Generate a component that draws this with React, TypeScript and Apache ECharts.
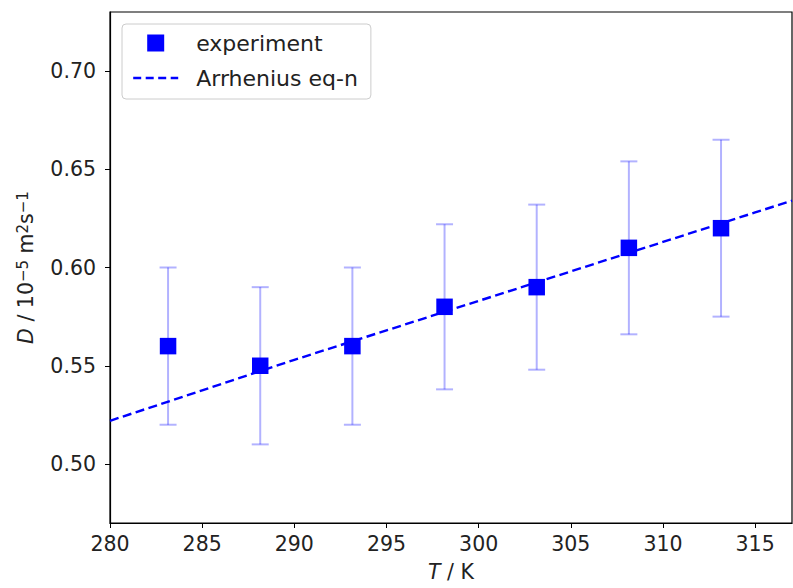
import React, { useEffect, useRef } from "react";
import * as echarts from "echarts";

// Measured diffusion coefficients (D in 10^-5 m^2/s) at each temperature (K)
const temps = [283.15, 288.15, 293.15, 298.15, 303.15, 308.15, 313.15];
const diffusion = [0.56, 0.55, 0.56, 0.58, 0.59, 0.61, 0.62];
const errLow = [0.52, 0.51, 0.52, 0.538, 0.548, 0.566, 0.575];
const errHigh = [0.6, 0.59, 0.6, 0.622, 0.632, 0.654, 0.665];

// Arrhenius fit curve
const fitT = [280, 285, 290, 295, 300, 305, 310, 315, 317];
const fitD = [0.522, 0.5375, 0.553, 0.568, 0.583, 0.598, 0.613, 0.628, 0.634];

// Axis ticks
const xTicks = [280, 285, 290, 295, 300, 305, 310, 315];
const yTicks = [0.5, 0.55, 0.6, 0.65, 0.7];

const FONT = "DejaVu Sans";
const TEXT = "#222";
const BLUE = "#0000ff";

export default function App() {
  const ref = useRef<HTMLDivElement>(null);

  useEffect(() => {
    if (!ref.current) return;
    const chart = echarts.init(ref.current, null, { renderer: "svg" });

    const errData = temps.map((t, i) => [t, errLow[i], errHigh[i]]);
    const pts = temps.map((t, i) => [t, diffusion[i]]);
    const fit = fitT.map((t, i) => [t, fitD[i]]);

    const sup = {
      fontSize: 15,
      verticalAlign: "top",
      fontFamily: FONT,
      color: TEXT,
      padding: [0, 0, 4, 0],
    };
    const ital = { fontStyle: "italic", fontSize: 20.5, fontFamily: FONT, color: TEXT };

    chart.setOption({
      animation: false,
      backgroundColor: "#fff",
      textStyle: { fontFamily: FONT },
      grid: {
        left: 110,
        top: 12,
        right: 1,
        bottom: 65,
        show: true,
        borderColor: "#000",
        borderWidth: 1.2,
        backgroundColor: "transparent",
      },
      legend: {
        left: 122,
        top: 24,
        orient: "vertical",
        itemWidth: 45,
        itemHeight: 17,
        itemGap: 13,
        padding: [8, 13, 10, 10],
        borderColor: "#cccccc",
        borderWidth: 1,
        borderRadius: 4,
        backgroundColor: "rgba(255,255,255,0.8)",
        symbolKeepAspect: true,
        textStyle: {
          fontSize: 22,
          lineHeight: 22,
          color: TEXT,
          fontFamily: FONT,
          padding: [0, 0, 0, 13],
        },
        data: [
          { name: "experiment", icon: "path://M0,0H1V1H0Z" },
          {
            name: "Arrhenius eq-n",
            itemStyle: { color: "rgba(0,0,0,0)", borderWidth: 0, opacity: 0 },
            lineStyle: { color: BLUE, width: 2.4, type: [8, 4.5], opacity: 1 },
          },
        ],
      },
      xAxis: {
        type: "value",
        min: 280,
        max: 317,
        name: "{i|T} / K",
        nameLocation: "middle",
        nameGap: 38,
        nameTextStyle: {
          fontSize: 20.5,
          color: TEXT,
          fontFamily: FONT,
          rich: { i: ital },
        },
        axisLine: { show: true, lineStyle: { color: "#000", width: 1.2 } },
        axisTick: {
          show: true,
          length: 5,
          lineStyle: { color: "#000", width: 1 },
          customValues: xTicks,
        },
        axisLabel: {
          fontSize: 20.5,
          color: TEXT,
          fontFamily: FONT,
          margin: 10,
          customValues: xTicks,
          formatter: (v: number) => String(v),
        },
        splitLine: { show: false },
      },
      yAxis: {
        type: "value",
        min: 0.47,
        max: 0.73,
        name: "{i|D} / 10{s|−5} m{s|2}s{s|−1}",
        nameLocation: "middle",
        nameRotate: 90,
        nameGap: 74,
        nameTextStyle: {
          fontSize: 20.5,
          color: TEXT,
          fontFamily: FONT,
          rich: { i: ital, s: sup },
        },
        axisLine: { show: true, lineStyle: { color: "#000", width: 1.2 } },
        axisTick: {
          show: true,
          length: 5,
          lineStyle: { color: "#000", width: 1 },
          customValues: yTicks,
        },
        axisLabel: {
          fontSize: 20.5,
          color: TEXT,
          fontFamily: FONT,
          margin: 14,
          customValues: yTicks,
          formatter: (v: number) => v.toFixed(2),
        },
        splitLine: { show: false },
      },
      series: [
        {
          name: "errors",
          type: "custom",
          silent: true,
          z: 1,
          encode: { x: 0, y: [1, 2] },
          data: errData,
          renderItem: (params: any, api: any) => {
            const x = api.value(0);
            const top = api.coord([x, api.value(2)]);
            const bot = api.coord([x, api.value(1)]);
            const half = 8.5;
            const style = { stroke: "rgba(0,0,255,0.3)", lineWidth: 2 };
            return {
              type: "group",
              children: [
                { type: "line", shape: { x1: top[0], y1: top[1], x2: bot[0], y2: bot[1] }, style },
                { type: "line", shape: { x1: top[0] - half, y1: top[1], x2: top[0] + half, y2: top[1] }, style },
                { type: "line", shape: { x1: bot[0] - half, y1: bot[1], x2: bot[0] + half, y2: bot[1] }, style },
              ],
            };
          },
        },
        {
          name: "Arrhenius eq-n",
          type: "line",
          z: 2,
          data: fit,
          symbol: "none",
          showSymbol: false,
          lineStyle: { color: BLUE, width: 2.4, type: [9, 4.5] },
          itemStyle: { color: BLUE },
        },
        {
          name: "experiment",
          type: "scatter",
          z: 3,
          data: pts,
          symbol: "rect",
          symbolSize: 16.5,
          itemStyle: { color: BLUE, opacity: 1 },
        },
      ],
    });

    return () => chart.dispose();
  }, []);

  return (
    <div
      ref={ref}
      style={{ position: "fixed", left: 0, top: 0, width: 793, height: 588 }}
    />
  );
}
